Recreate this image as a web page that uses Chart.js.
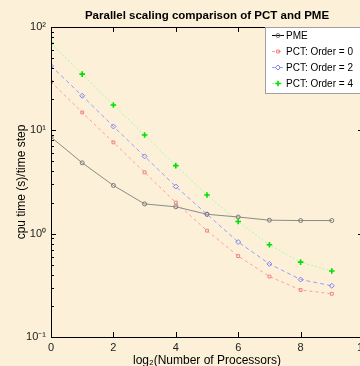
<!DOCTYPE html>
<html>
<head>
<meta charset="utf-8">
<script src="https://cdn.jsdelivr.net/npm/chart.js@4/dist/chart.umd.min.js"></script>
<style>
  html, body { margin: 0; padding: 0; width: 360px; height: 366px; overflow: hidden; background: #fcf1d8; }
  canvas { display: block; }
</style>
</head>
<body>
<canvas id="chart" width="380" height="366"></canvas>
<script>
// log2 of processor count
const procs = [0, 1, 2, 3, 4, 5, 6, 7, 8, 9];
// cpu time (s) per time step
const pme    = [8.6, 4.85, 2.93, 1.94, 1.82, 1.54, 1.45, 1.35, 1.34, 1.34];
const order0 = [29.4, 14.9, 7.65, 3.92, 2.0, 1.07, 0.607, 0.385, 0.285, 0.262];
const order2 = [42, 21.6, 10.9, 5.6, 2.86, 1.54, 0.83, 0.51, 0.36, 0.313];
const order4 = [69.5, 35, 17.6, 9.0, 4.55, 2.37, 1.31, 0.78, 0.53, 0.435];

const xTicks = [0, 2, 4, 6, 8, 10];
const yTicks = [0.1, 1, 10, 100];
const yTickLabels = ['10\u207B\u00B9', '10\u2070', '10\u00B9', '10\u00B2'];

const titleText = 'Parallel scaling comparison of PCT and PME';
const xLabel = 'log\u2082(Number of Processors)';
const yLabel = 'cpu time (s)/time step';

const FONT = 'Helvetica, Arial, "Liberation Sans", sans-serif';

const series = [
  { label: 'PME', data: pme, line: '#8a8a8a', legLine: '#000', mark: '#777', style: 'circle', r: 2, bw: 1, dash: [] },
  { label: 'PCT: Order = 0', data: order0, line: '#ff9c9c', legLine: '#ff9c9c', mark: '#f08080', style: 'rect', r: 2, bw: 1, dash: [3, 3] },
  { label: 'PCT: Order = 2', data: order2, line: '#9c9cff', legLine: '#9c9cff', mark: '#8080f0', style: 'rectRot', r: 2.5, bw: 1, dash: [4, 3] },
  { label: 'PCT: Order = 4', data: order4, line: '#a0ffa0', legLine: '#a0ffa0', mark: '#00e000', style: 'cross', r: 2.8, bw: 1.6, dash: [2, 2] }
];

const frame = {
  id: 'frame',
  afterDatasetsDraw(chart) {
    const ctx = chart.ctx;
    const a = chart.chartArea;
    const xs = chart.scales.x, ys = chart.scales.y;
    ctx.save();
    ctx.strokeStyle = '#000';
    ctx.lineWidth = 1;
    ctx.strokeRect(a.left + 0.5, a.top + 0.5, a.right - a.left, a.bottom - a.top);
    ctx.beginPath();
    xTicks.forEach(v => {
      const px = Math.round(xs.getPixelForValue(v)) + 0.5;
      ctx.moveTo(px, a.bottom); ctx.lineTo(px, a.bottom - 5);
      ctx.moveTo(px, a.top); ctx.lineTo(px, a.top + 5);
    });
    for (let e = -1; e < 2; e++) {
      for (let m = 1; m < 10; m++) {
        const v = m * Math.pow(10, e);
        const py = Math.round(ys.getPixelForValue(v)) + 0.5;
        const len = m === 1 ? 5 : 3;
        ctx.moveTo(a.left, py); ctx.lineTo(a.left + len, py);
        ctx.moveTo(a.right, py); ctx.lineTo(a.right - len, py);
      }
    }
    ctx.stroke();
    ctx.restore();
  },
  afterDraw(chart) {
    const ctx = chart.ctx;
    const a = chart.chartArea;
    ctx.save();
    ctx.fillStyle = '#000';
    ctx.textAlign = 'center';
    ctx.textBaseline = 'middle';
    ctx.font = 'bold 11.5px ' + FONT;
    ctx.fillText(titleText, (a.left + a.right) / 2, 16);
    ctx.font = '12px ' + FONT;
    ctx.fillText(xLabel, (a.left + a.right) / 2, 361);
    ctx.translate(22, (a.top + a.bottom) / 2);
    ctx.rotate(-Math.PI / 2);
    ctx.fillText(yLabel, 0, 0);
    ctx.restore();

    // legend box
    const lx = 265, ly = 27, lw = 100, lh = 66;
    ctx.save();
    ctx.fillStyle = '#fff';
    ctx.fillRect(lx, ly, lw, lh);
    ctx.strokeStyle = '#a0a0a0';
    ctx.lineWidth = 1;
    ctx.strokeRect(lx + 0.5, ly + 0.5, lw, lh);
    ctx.font = '10px ' + FONT;
    ctx.textAlign = 'left';
    ctx.textBaseline = 'middle';
    series.forEach((s, i) => {
      const y = ly + 8.5 + i * 16;
      ctx.strokeStyle = s.legLine;
      ctx.lineWidth = 1;
      ctx.setLineDash(s.dash);
      ctx.beginPath();
      ctx.moveTo(272, y); ctx.lineTo(284, y);
      ctx.stroke();
      ctx.setLineDash([]);
      ctx.strokeStyle = s.mark;
      ctx.fillStyle = 'rgba(0,0,0,0)';
      ctx.lineWidth = s.bw;
      Chart.helpers.drawPoint(ctx, { pointStyle: s.style, radius: s.r, borderWidth: s.bw }, 278, y);
      ctx.fillStyle = '#000';
      ctx.fillText(s.label, 286, y + 0.5);
    });
    ctx.restore();
  }
};

new Chart(document.getElementById('chart'), {
  type: 'line',
  data: {
    labels: procs,
    datasets: series.map(s => ({
      label: s.label,
      data: procs.map((x, i) => ({ x: x, y: s.data[i] })),
      borderColor: s.line,
      borderWidth: 1,
      borderDash: s.dash,
      pointStyle: s.style,
      pointRadius: s.r,
      pointBorderColor: s.mark,
      pointBackgroundColor: 'rgba(0,0,0,0)',
      pointBorderWidth: s.bw,
      tension: 0,
      fill: false
    }))
  },
  options: {
    responsive: false,
    animation: false,
    events: [],
    layout: { padding: { top: 27, right: 17, left: 0, bottom: 0 } },
    plugins: { legend: { display: false }, title: { display: false }, tooltip: { enabled: false } },
    scales: {
      x: {
        type: 'linear',
        min: 0, max: 10,
        afterBuildTicks: s => { s.ticks = xTicks.map(v => ({ value: v })); },
        afterFit: s => { s.height = 29; },
        grid: { display: false, drawTicks: false },
        border: { display: false },
        ticks: { color: '#222', font: { size: 11, family: FONT }, padding: 4, maxRotation: 0, autoSkip: false }
      },
      y: {
        type: 'logarithmic',
        min: 0.1, max: 100,
        afterBuildTicks: s => { s.ticks = yTicks.map(v => ({ value: v })); },
        afterFit: s => { s.width = 51; },
        grid: { display: false, drawTicks: false },
        border: { display: false },
        ticks: {
          color: '#222', font: { size: 11, family: FONT }, padding: 5, autoSkip: false,
          callback: v => yTickLabels[yTicks.indexOf(v)]
        }
      }
    }
  },
  plugins: [frame]
});
</script>
</body>
</html>
